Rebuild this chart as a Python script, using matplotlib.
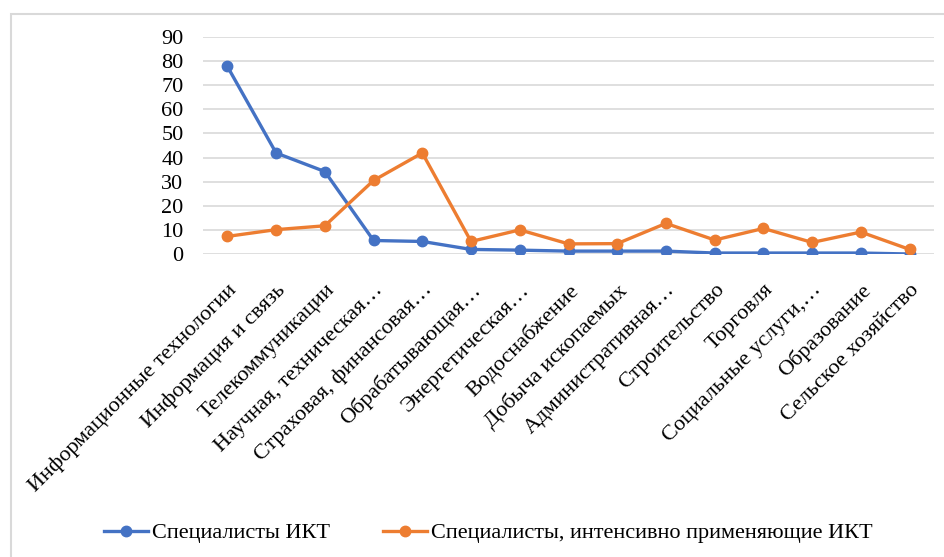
import matplotlib
matplotlib.use('Agg')
import matplotlib.pyplot as plt
from matplotlib.patches import Rectangle
import numpy as np

categories = ['Информационные технологии', 'Информация и связь', 'Телекоммуникации',
              'Научная, техническая…', 'Страховая, финансовая…', 'Обрабатывающая…',
              'Энергетическая…', 'Водоснабжение', 'Добыча ископаемых',
              'Административная…', 'Строительство', 'Торговля',
              'Социальные услуги,…', 'Образование', 'Сельское хозяйство']
ikt = [77.8, 41.9, 34.2, 5.6, 5.2, 1.9, 1.6, 1.2, 1.2, 1.2, 0.4, 0.4, 0.4, 0.4, 0.0]
ikt_intensive = [7.3, 10.1, 11.7, 30.5, 41.9, 5.2, 10.0, 4.2, 4.3, 12.7, 5.8, 10.6, 4.8, 9.1, 1.9]
yticks = [0, 10, 20, 30, 40, 50, 60, 70, 80, 90]

plt.rcParams['font.family'] = ['Liberation Serif', 'DejaVu Serif']

fig = plt.figure(figsize=(9.44, 5.57), dpi=100)
# light frame around chart area
fig.patches.append(Rectangle((11 / 944, -0.05), 1.0, 1 - 14 / 557 + 0.05, transform=fig.transFigure,
                             fill=False, edgecolor='#D9D9D9', linewidth=1.5))
ax = fig.add_axes([203 / 944, 1 - 254 / 557, 731 / 944, 217 / 557])

x = np.arange(len(categories))
ax.plot(x, ikt, color='#4472C4', lw=2.4, marker='o', ms=7.5, label='Специалисты ИКТ', zorder=3)
ax.plot(x, ikt_intensive, color='#ED7D31', lw=2.4, marker='o', ms=7.5,
        label='Специалисты, интенсивно применяющие ИКТ', zorder=3)

ax.set_xlim(-0.5, 14.5)
ax.set_ylim(0, 90)
ax.set_yticks(yticks)
ax.set_yticklabels([str(v) for v in yticks], fontsize=16)
ax.yaxis.grid(True, color='#D9D9D9', lw=1.2)
ax.set_axisbelow(True)
for s in ax.spines.values():
    s.set_visible(False)
ax.tick_params(length=0)
ax.tick_params(axis='y', pad=14)
ax.set_xticks(x)
ax.set_xticklabels(categories, rotation=45, ha='right', rotation_mode='anchor', fontsize=16)
ax.tick_params(axis='x', pad=19)

fig.legend(loc='center', bbox_to_anchor=(0.517, 1 - 533 / 557), ncol=2, frameon=False,
           fontsize=16, handlelength=2.0, handletextpad=0.15, columnspacing=2.4)

fig.savefig('out.png', dpi=100)
